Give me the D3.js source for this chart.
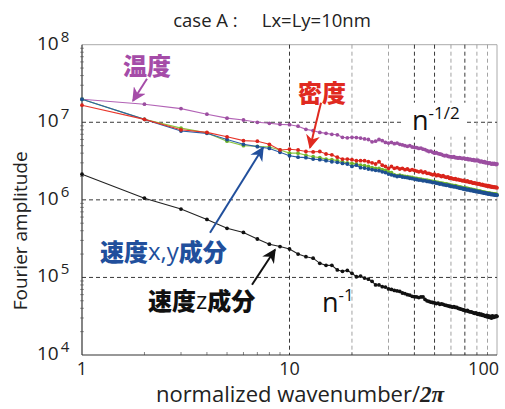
<!DOCTYPE html>
<html>
<head>
<meta charset="utf-8">
<script src="https://cdn.jsdelivr.net/npm/d3@7"></script>
<style>
  body { margin: 0; background: #fff; }
  svg { display: block; font-family: "Open Sans", "Noto Sans", sans-serif; }
</style>
</head>
<body>
<svg id="chart" width="505" height="409"></svg>
<script>
// wavenumber index n = 1..100
const wavenumber = d3.range(1, 101);

// 温度 (temperature)
const temperature = [
  1.98e7, 1.71e7, 1.50e7, 1.27e7, 1.13e7, 1.07e7, 1.00e7, 9.7e6, 9.4e6, 9.3e6,
  8.9e6, 8.1e6, 7.8e6, 7.4e6, 7.2e6, 7.0e6, 6.9e6, 6.4e6, 6.3e6, 6.4e6,
  6.35e6, 6.25e6, 6.1e6, 6.0e6, 5.6e6, 5.7e6, 6.0e6, 5.8e6, 5.5e6, 5.4e6,
  5.5e6, 5.3e6, 5.4e6, 5.2e6, 5.1e6, 5.0e6, 4.9e6, 5.0e6, 4.8e6, 4.75e6,
  4.7e6, 4.6e6, 4.65e6, 4.5e6, 4.45e6, 4.3e6, 4.2e6, 4.25e6, 4.1e6, 4.0e6,
  4.05e6, 3.95e6, 3.9e6, 3.85e6, 3.75e6, 3.7e6, 3.75e6, 3.65e6, 3.6e6, 3.6e6,
  3.55e6, 3.6e6, 3.5e6, 3.5e6, 3.45e6, 3.5e6, 3.45e6, 3.4e6, 3.45e6, 3.4e6,
  3.35e6, 3.4e6, 3.3e6, 3.35e6, 3.3e6, 3.25e6, 3.3e6, 3.2e6, 3.25e6, 3.2e6,
  3.25e6, 3.15e6, 3.1e6, 3.15e6, 3.1e6, 3.05e6, 3.1e6, 3.0e6, 3.05e6, 3.0e6,
  2.95e6, 3.0e6, 2.95e6, 2.9e6, 2.95e6, 2.9e6, 2.95e6, 2.9e6, 2.85e6, 2.9e6
];

// 密度 (density)
const density = [
  1.66e7, 1.09e7, 8.0e6, 7.4e6, 6.5e6, 5.8e6, 5.7e6, 5.2e6, 4.4e6, 4.5e6,
  4.4e6, 4.2e6, 4.15e6, 4.2e6, 3.9e6, 3.8e6, 3.55e6, 3.35e6, 3.35e6, 3.3e6,
  3.2e6, 3.2e6, 3.2e6, 3.1e6, 3.0e6, 2.9e6, 3.1e6, 2.8e6, 2.7e6, 2.55e6,
  2.7e6, 2.55e6, 2.6e6, 2.5e6, 2.55e6, 2.45e6, 2.5e6, 2.4e6, 2.45e6, 2.4e6,
  2.35e6, 2.3e6, 2.35e6, 2.25e6, 2.3e6, 2.2e6, 2.2e6, 2.15e6, 2.1e6, 2.15e6,
  2.05e6, 2.1e6, 2.05e6, 2.0e6, 2.05e6, 1.98e6, 1.95e6, 1.97e6, 1.9e6, 1.92e6,
  1.88e6, 1.85e6, 1.87e6, 1.82e6, 1.84e6, 1.8e6, 1.8e6, 1.76e6, 1.78e6, 1.74e6,
  1.72e6, 1.75e6, 1.7e6, 1.68e6, 1.7e6, 1.66e6, 1.64e6, 1.66e6, 1.62e6, 1.63e6,
  1.6e6, 1.62e6, 1.58e6, 1.56e6, 1.58e6, 1.54e6, 1.55e6, 1.52e6, 1.53e6, 1.5e6,
  1.52e6, 1.48e6, 1.5e6, 1.46e6, 1.48e6, 1.45e6, 1.47e6, 1.44e6, 1.46e6, 1.43e6
];

// 速度x成分
const velocityX = [
  1.98e7, 1.09e7, 7.7e6, 7.2e6, 6.0e6, 5.2e6, 4.85e6, 4.6e6, 4.1e6, 3.7e6,
  3.55e6, 3.5e6, 3.35e6, 3.3e6, 3.2e6, 3.1e6, 3.05e6, 2.95e6, 2.9e6, 2.7e6,
  2.8e6, 2.6e6, 2.57e6, 2.5e6, 2.45e6, 2.4e6, 2.38e6, 2.3e6, 2.25e6, 2.15e6,
  2.1e6, 2.05e6, 2.0e6, 2.02e6, 1.97e6, 1.95e6, 1.93e6, 1.9e6, 1.88e6, 1.85e6,
  1.83e6, 1.8e6, 1.8e6, 1.76e6, 1.77e6, 1.73e6, 1.72e6, 1.7e6, 1.67e6, 1.68e6,
  1.64e6, 1.63e6, 1.6e6, 1.61e6, 1.57e6, 1.56e6, 1.54e6, 1.55e6, 1.51e6, 1.5e6,
  1.49e6, 1.47e6, 1.48e6, 1.45e6, 1.44e6, 1.42e6, 1.41e6, 1.4e6, 1.38e6, 1.39e6,
  1.36e6, 1.35e6, 1.36e6, 1.33e6, 1.32e6, 1.33e6, 1.3e6, 1.31e6, 1.28e6, 1.29e6,
  1.27e6, 1.26e6, 1.27e6, 1.24e6, 1.25e6, 1.23e6, 1.22e6, 1.23e6, 1.2e6, 1.21e6,
  1.19e6, 1.2e6, 1.18e6, 1.17e6, 1.18e6, 1.16e6, 1.17e6, 1.15e6, 1.16e6, 1.15e6
];

// 速度y成分
const velocityY = [
  1.98e7, 1.09e7, 8.4e6, 7.3e6, 5.7e6, 5.0e6, 4.9e6, 4.8e6, 4.4e6, 4.0e6,
  4.0e6, 3.75e6, 3.6e6, 3.5e6, 3.35e6, 3.3e6, 3.2e6, 3.1e6, 3.0e6, 2.95e6,
  2.9e6, 2.8e6, 2.75e6, 2.7e6, 2.6e6, 2.55e6, 2.55e6, 2.45e6, 2.4e6, 2.3e6,
  2.25e6, 2.1e6, 2.05e6, 2.08e6, 2.04e6, 2.0e6, 1.99e6, 1.96e6, 1.94e6, 1.9e6,
  1.89e6, 1.86e6, 1.85e6, 1.82e6, 1.8e6, 1.79e6, 1.77e6, 1.74e6, 1.73e6, 1.72e6,
  1.69e6, 1.68e6, 1.66e6, 1.64e6, 1.63e6, 1.61e6, 1.6e6, 1.58e6, 1.57e6, 1.55e6,
  1.54e6, 1.52e6, 1.52e6, 1.5e6, 1.48e6, 1.47e6, 1.46e6, 1.44e6, 1.43e6, 1.42e6,
  1.41e6, 1.4e6, 1.39e6, 1.37e6, 1.37e6, 1.35e6, 1.35e6, 1.33e6, 1.32e6, 1.32e6,
  1.3e6, 1.3e6, 1.29e6, 1.28e6, 1.27e6, 1.26e6, 1.26e6, 1.24e6, 1.24e6, 1.23e6,
  1.22e6, 1.22e6, 1.21e6, 1.2e6, 1.2e6, 1.19e6, 1.19e6, 1.18e6, 1.18e6, 1.17e6
];

// 速度z成分
const velocityZ = [
  2.14e6, 1.05e6, 7.6e5, 5.6e5, 4.3e5, 3.8e5, 3.13e5, 2.68e5, 2.5e5, 2.33e5,
  2.0e5, 1.85e5, 1.77e5, 1.52e5, 1.43e5, 1.43e5, 1.25e5, 1.2e5, 1.23e5, 1.13e5,
  1.02e5, 1.04e5, 9.8e4, 9.5e4, 8.9e4, 8.0e4, 8.0e4, 7.6e4, 7.5e4, 7.1e4,
  7.0e4, 6.8e4, 6.7e4, 6.6e4, 6.3e4, 6.2e4, 6.0e4, 5.9e4, 5.7e4, 5.65e4,
  5.6e4, 5.5e4, 5.6e4, 5.6e4, 5.2e4, 5.0e4, 4.9e4, 4.8e4, 4.75e4, 4.7e4,
  4.6e4, 4.65e4, 4.5e4, 4.55e4, 4.5e4, 4.4e4, 4.35e4, 4.3e4, 4.25e4, 4.2e4,
  4.15e4, 4.2e4, 4.1e4, 4.1e4, 4.0e4, 3.95e4, 3.9e4, 3.85e4, 3.8e4, 3.75e4,
  3.7e4, 3.75e4, 3.65e4, 3.6e4, 3.6e4, 3.55e4, 3.5e4, 3.45e4, 3.5e4, 3.4e4,
  3.35e4, 3.4e4, 3.3e4, 3.35e4, 3.25e4, 3.3e4, 3.2e4, 3.15e4, 3.25e4, 3.1e4,
  3.2e4, 3.05e4, 3.15e4, 3.0e4, 3.2e4, 3.05e4, 3.15e4, 3.1e4, 3.2e4, 3.15e4
];

const yTickValues = [1e4, 1e5, 1e6, 1e7, 1e8];
const yTickExponents = ["4", "5", "6", "7", "8"];
const xTickValues = [1, 10, 100];
const xGridValues = [10, 20, 30, 40, 50, 60, 70, 80, 90];

const svg = d3.select("#chart");

const margin = { top: 44.7, right: 8, bottom: 54, left: 82 };
const width = 505 - margin.left - margin.right;
const height = 409 - margin.top - margin.bottom;

const g = svg.append("g")
    .attr("transform", `translate(${margin.left},${margin.top})`);

const x = d3.scaleLog().domain([1, 100]).range([0, width]);
const y = d3.scaleLog().domain([1e4, 1e8]).range([height, 0]);

// frame (top + right are light)
g.append("line")
  .attr("x1", 0).attr("x2", width).attr("y1", 0).attr("y2", 0)
  .attr("stroke", "#aaa").attr("stroke-width", 1);
g.append("line")
  .attr("x1", width).attr("x2", width).attr("y1", 0).attr("y2", height)
  .attr("stroke", "#aaa").attr("stroke-width", 1);

// grid
g.selectAll(".hgrid")
  .data([1e5, 1e6, 1e7])
  .enter()
  .append("line")
  .attr("class", "hgrid")
  .attr("x1", 0).attr("x2", width)
  .attr("y1", d => y(d)).attr("y2", d => y(d))
  .attr("stroke", "#222")
  .attr("stroke-width", 0.9)
  .attr("stroke-dasharray", "4,3");

const darkGrid = new Set([10, 40, 50, 70]);
g.selectAll(".vgrid")
  .data(xGridValues)
  .enter()
  .append("line")
  .attr("class", "vgrid")
  .attr("x1", d => x(d)).attr("x2", d => x(d))
  .attr("y1", 0).attr("y2", height)
  .attr("stroke", d => darkGrid.has(d) ? "#222" : "#999")
  .attr("stroke-width", 0.9)
  .attr("stroke-dasharray", "4,3");

// white patch behind the n^-1/2 label
g.append("rect")
  .attr("x", 322).attr("y", 58)
  .attr("width", 62).attr("height", 34)
  .attr("fill", "#fff");

// axes
const minorY = [];
[1e4, 1e5, 1e6, 1e7].forEach(p => {
  for (let k = 2; k <= 9; k++) minorY.push(p * k);
});
g.selectAll(".ytickMinor")
  .data(minorY)
  .enter()
  .append("line")
  .attr("x1", -2).attr("x2", 2)
  .attr("y1", d => y(d)).attr("y2", d => y(d))
  .attr("stroke", "#888").attr("stroke-width", 0.8);

const minorX = [];
[1, 10].forEach(p => {
  for (let k = 2; k <= 9; k++) minorX.push(p * k);
});
g.selectAll(".xtickMinor")
  .data(minorX)
  .enter()
  .append("line")
  .attr("x1", d => x(d)).attr("x2", d => x(d))
  .attr("y1", height).attr("y2", height - 3)
  .attr("stroke", "#666").attr("stroke-width", 0.8);

g.append("line")
  .attr("x1", 0).attr("x2", 0).attr("y1", 0).attr("y2", height)
  .attr("stroke", "#333").attr("stroke-width", 1.2);
g.append("line")
  .attr("x1", 0).attr("x2", width).attr("y1", height).attr("y2", height)
  .attr("stroke", "#333").attr("stroke-width", 1.2);

// y tick labels 10^k
const yLab = g.selectAll(".ylab")
  .data(yTickValues)
  .enter()
  .append("text")
  .attr("class", "ylab")
  .attr("x", -45)
  .attr("y", d => y(d) + 5)
  .style("font-size", "19px")
  .style("fill", "#222");
yLab.append("tspan").text("10");
yLab.append("tspan")
  .attr("dx", 2).attr("dy", -8)
  .style("font-size", "15px")
  .text((d, i) => yTickExponents[i]);

// x tick labels ("100" sits left of its tick, as in the source)
g.selectAll(".xlab")
  .data(xTickValues)
  .enter()
  .append("text")
  .attr("x", d => d === 100 ? x(d) + 2 : x(d))
  .attr("y", height + 20)
  .attr("text-anchor", d => d === 100 ? "end" : "middle")
  .style("font-size", "18px")
  .style("fill", "#222")
  .text(d => d);

// axis titles
const xTitle = g.append("text")
  .attr("x", x(1) + 218)
  .attr("y", height + 47.5)
  .attr("text-anchor", "middle")
  .style("font-size", "22px")
  .style("fill", "#222");
xTitle.append("tspan").text("normalized wavenumber/");
xTitle.append("tspan")
  .style("font-family", "'Liberation Serif', 'DejaVu Serif', serif")
  .style("font-weight", "bold")
  .style("font-style", "italic")
  .style("font-size", "23px")
  .text("2π");

g.append("text")
  .attr("transform", `translate(-55,${height / 2 + 31}) rotate(-90)`)
  .attr("text-anchor", "middle")
  .style("font-size", "19px")
  .style("fill", "#222")
  .text("Fourier amplitude");

svg.append("text")
  .attr("x", 272)
  .attr("y", 27)
  .attr("text-anchor", "middle")
  .style("font-size", "18.5px")
  .style("fill", "#222")
  .style("white-space", "pre")
  .text("case A :     Lx=Ly=10nm");

// series
const series = [
  { name: "velocityZ", values: velocityZ, line: "#222", dot: "#111" },
  { name: "temperature", values: temperature, line: "#b263b6", dot: "#9b4ea0" },
  { name: "velocityY", values: velocityY, line: "#8cc63f", dot: "#6fb52c" },
  { name: "velocityX", values: velocityX, line: "#2a5ea8", dot: "#1d4f91" },
  { name: "density", values: density, line: "#e8352a", dot: "#d9241b" }
];

const line = d3.line()
  .x(d => x(d.n))
  .y(d => y(d.v));

series.forEach(s => {
  const pts = wavenumber.map((n, i) => ({ n: n, v: s.values[i] }));

  g.append("path")
    .datum(pts)
    .attr("fill", "none")
    .attr("stroke", s.line)
    .attr("stroke-width", 1.1)
    .attr("d", line);

  g.selectAll(".dot-" + s.name)
    .data(pts)
    .enter()
    .append("circle")
    .attr("cx", d => x(d.n))
    .attr("cy", d => y(d.v))
    .attr("r", 1.9)
    .attr("fill", s.dot);
});

// arrows
const defs = svg.append("defs");
function arrowHead(id, color) {
  defs.append("marker")
    .attr("id", id)
    .attr("viewBox", "0 0 10 10")
    .attr("refX", 9).attr("refY", 5)
    .attr("markerWidth", 7).attr("markerHeight", 7)
    .attr("markerUnits", "strokeWidth")
    .attr("orient", "auto")
    .append("path")
    .attr("d", "M0,0 L10,5 L0,10 L3,5 Z")
    .attr("fill", color);
}

const notes = [
  { id: "arP", color: "#a54ca8", x1: 65, y1: 34, x2: 51, y2: 56 },
  { id: "arR", color: "#e02a20", x1: 239, y1: 58, x2: 228, y2: 103 },
  { id: "arB", color: "#214f9c", x1: 128, y1: 188, x2: 181, y2: 103 },
  { id: "arK", color: "#111", x1: 170, y1: 240, x2: 193, y2: 205 }
];
notes.forEach(a => {
  arrowHead(a.id, a.color);
  g.append("line")
    .attr("x1", a.x1).attr("y1", a.y1)
    .attr("x2", a.x2).attr("y2", a.y2)
    .attr("stroke", a.color)
    .attr("stroke-width", 2)
    .attr("marker-end", `url(#${a.id})`);
});

// labels
const cjk = "'Noto Sans CJK JP', 'Noto Sans CJK SC', sans-serif";

g.append("text")
  .attr("x", 65).attr("y", 20)
  .attr("text-anchor", "middle")
  .attr("dominant-baseline", "central")
  .style("font-family", cjk).style("font-weight", "900")
  .style("font-size", "24px").style("fill", "#a54ca8")
  .text("温度");

g.append("text")
  .attr("x", 240).attr("y", 47)
  .attr("text-anchor", "middle")
  .attr("dominant-baseline", "central")
  .style("font-family", cjk).style("font-weight", "900")
  .style("font-size", "24px").style("fill", "#e02a20")
  .text("密度");

const vxy = g.append("text")
  .attr("x", 18).attr("y", 205)
  .attr("dominant-baseline", "central")
  .style("font-family", cjk).style("font-weight", "900")
  .style("font-size", "24px").style("fill", "#214f9c");
vxy.append("tspan").text("速度");
vxy.append("tspan")
  .style("font-family", "'Open Sans', sans-serif")
  .style("font-weight", "normal")
  .text("x,y");
vxy.append("tspan").text("成分");

const vz = g.append("text")
  .attr("x", 66).attr("y", 254)
  .attr("dominant-baseline", "central")
  .style("font-family", cjk).style("font-weight", "900")
  .style("font-size", "24px").style("fill", "#111");
vz.append("tspan").text("速度");
vz.append("tspan")
  .style("font-family", "'Open Sans', sans-serif")
  .style("font-weight", "normal")
  .text("z");
vz.append("tspan").text("成分");

// slope labels
const s1 = g.append("text")
  .attr("x", 330).attr("y", 85)
  .style("font-size", "27px").style("fill", "#111");
s1.append("tspan").text("n");
s1.append("tspan")
  .attr("dy", -11)
  .style("font-size", "17px")
  .text("-1/2");

const s2 = g.append("text")
  .attr("x", 240).attr("y", 267)
  .style("font-size", "27px").style("fill", "#111");
s2.append("tspan").text("n");
s2.append("tspan")
  .attr("dy", -11)
  .style("font-size", "17px")
  .text("-1");
</script>
</body>
</html>
